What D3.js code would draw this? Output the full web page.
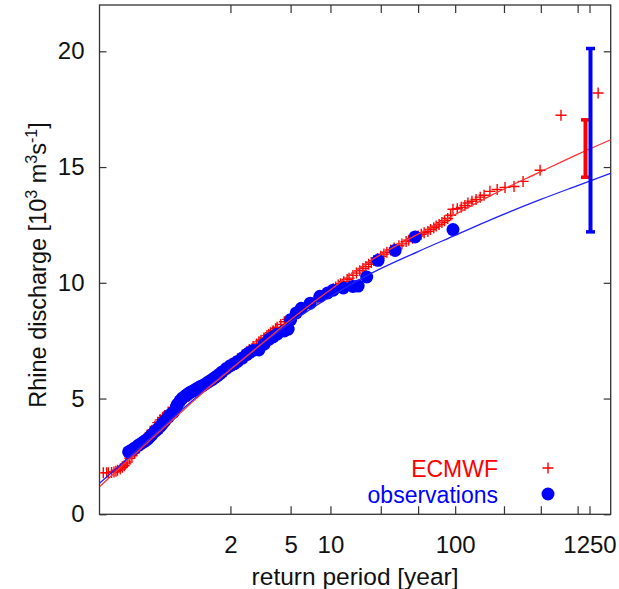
<!DOCTYPE html>
<html>
<head>
<meta charset="utf-8">
<script src="https://cdn.jsdelivr.net/npm/d3@7"></script>
<style>
  body { margin: 0; background: #fff; }
  text { font-family: "Liberation Sans", Arial, sans-serif; fill: #111; }
</style>
</head>
<body>
<div id="chart"></div>
<script>
// ECMWF ensemble: return period [yr] and discharge [10^3 m3/s]
const ecmwfT = [
  1.0005, 1.0008, 1.001, 1.0015, 1.002, 1.0025, 1.003, 1.004, 1.005, 1.006, 1.007, 1.008,
  1.01, 1.012, 1.015, 1.018, 1.02, 1.025, 1.03, 1.035, 1.04, 1.045, 1.05, 1.06, 1.07, 1.08,
  1.09, 1.1, 1.12, 1.15, 1.17, 1.2, 1.22, 1.25, 1.28, 1.3, 1.35, 1.4, 1.45, 1.5, 1.55, 1.6,
  1.7, 1.8, 1.9, 2.0,
  2.1, 2.2, 2.35, 2.5, 2.6, 2.75, 2.9, 3.0, 3.1, 3.25, 3.4, 3.5, 3.6, 3.75, 3.9, 4.0, 4.25,
  4.5, 4.75, 5.0, 5.25, 5.5, 5.75, 6.0, 6.5, 7.0, 7.5, 8.0, 8.5, 9.0, 9.5, 10, 10.5, 11,
  11.5, 12, 12.7, 13.5, 14, 15, 16, 17, 18, 19, 20, 21, 22, 23.5, 25, 26.5, 28, 30, 32, 35,
  37, 40, 42, 45, 47,
  50, 53, 56, 60, 63, 67, 70, 74, 78, 82, 87, 92, 96, 104, 112, 120, 127, 137, 148, 160,
  172, 192, 220, 255, 302, 358, 493, 731, 1470
];
const ecmwfQ = [
  1.79, 1.8, 1.8, 1.81, 1.83, 1.86, 1.9, 1.96, 2.03, 2.1, 2.18, 2.26,
  2.42, 2.53, 2.66, 2.78, 2.86, 3.02, 3.16, 3.3, 3.42, 3.53, 3.63, 3.8, 3.96, 4.08,
  4.18, 4.27, 4.42, 4.6, 4.7, 4.84, 4.92, 5.02, 5.1, 5.16, 5.3, 5.44, 5.56, 5.68, 5.78, 5.88,
  6.06, 6.22, 6.37, 6.5,
  6.6, 6.72, 6.88, 7.02, 7.12, 7.25, 7.36, 7.45, 7.52, 7.62, 7.72, 7.78, 7.84, 7.93, 8.02, 8.08, 8.2,
  8.32, 8.42, 8.52, 8.62, 8.7, 8.77, 8.84, 8.98, 9.1, 9.22, 9.32, 9.42, 9.5, 9.58, 9.66, 9.74, 9.82,
  9.9, 9.96, 10.05, 10.14, 10.2, 10.32, 10.42, 10.52, 10.62, 10.7, 10.8, 10.88, 10.96, 11.05, 11.15, 11.24, 11.32, 11.42, 11.5, 11.6,
  11.68, 11.78, 11.84, 11.92, 11.97,
  12.02, 12.1, 12.16, 12.22, 12.3, 12.38, 12.45, 12.52, 12.6, 12.68, 12.78, 12.92, 13.18, 13.2, 13.26, 13.34, 13.45, 13.52, 13.6, 13.7,
  13.78, 13.95, 14.03, 14.12, 14.16, 14.38, 14.86, 17.24, 18.2
];

// observations
const obsT = [
  1.009, 1.012, 1.015, 1.02, 1.025, 1.03, 1.035, 1.04, 1.045, 1.05, 1.06, 1.07, 1.08, 1.09,
  1.1, 1.12, 1.13, 1.15, 1.17, 1.18, 1.2, 1.22, 1.25, 1.26, 1.28, 1.3, 1.33, 1.35, 1.37, 1.4,
  1.42, 1.45, 1.5, 1.55, 1.6, 1.65, 1.7, 1.75, 1.8, 1.9, 2.0, 2.1, 2.2, 2.35, 2.5, 2.6, 2.75,
  3.0, 3.25, 3.5, 3.75, 4.0, 4.5, 4.8, 5.0, 5.5, 6.0, 7.0,
  8.3, 9.5, 10.5, 12.6, 15, 16.5, 19.3, 23.8, 32.6, 47.3, 96
];
const obsQ = [
  2.7, 2.78, 2.86, 2.98, 3.06, 3.14, 3.2, 3.28, 3.36, 3.44, 3.58, 3.68, 3.8, 3.92,
  4.02, 4.2, 4.3, 4.4, 4.62, 4.75, 4.9, 5.02, 5.12, 5.16, 5.22, 5.28, 5.33, 5.38, 5.42, 5.48,
  5.52, 5.56, 5.65, 5.74, 5.82, 5.9, 5.98, 6.06, 6.15, 6.3, 6.42, 6.5, 6.6, 6.75, 6.9, 6.98, 7.08,
  7.1, 7.35, 7.55, 7.66, 7.78, 7.92, 8.0, 8.4, 8.7, 8.9, 9.12,
  9.42, 9.56, 9.68, 9.78, 9.84, 9.86, 10.25, 10.97, 11.4, 11.98, 12.3
];

// fitted return level curves
const fitT = [1.0003, 1.01, 1.07, 1.24, 1.58, 2.2, 3.25, 5, 10, 20, 50, 100, 200, 500, 1000, 1900];
const ecmwfFitQ = [1.2, 2.4, 3.5, 4.55, 5.55, 6.5, 7.45, 8.4, 9.7, 10.9, 12.1, 12.95, 13.8, 14.8, 15.55, 16.2];
const obsFitQ = [1.35, 2.5, 3.58, 4.62, 5.6, 6.52, 7.43, 8.28, 9.4, 10.35, 11.35, 12.05, 12.75, 13.6, 14.2, 14.75];

// 1250-yr return level uncertainty
const barT = 1250;
const ecmwfBar = [14.56, 17.04];
const obsBar = [12.2, 20.12];

const xTicks = [2, 5, 10, 25, 50, 100, 250, 500, 1000, 1250];
const xTickLabels = ["2", "5", "10", "", "", "100", "", "", "", "1250"];
const yTicks = [0, 5, 10, 15, 20];

const width = 619, height = 589;
const plot = { left: 99.5, right: 610.7, top: 5, bottom: 514.3 };

const svg = d3.select("#chart")
    .append("svg")
    .attr("width", width)
    .attr("height", height);

// Gumbel reduced variate of a return period
const gumbel = T => -Math.log(-Math.log(1 - 1 / T));

const x = d3.scaleLinear().domain([-2.1, 7.53]).range([plot.left, plot.right]);
const y = d3.scaleLinear().domain([0, 22]).range([plot.bottom, plot.top]);
const xT = T => x(gumbel(T));

svg.append("clipPath").attr("id", "clip")
    .append("rect")
    .attr("x", plot.left).attr("y", plot.top)
    .attr("width", plot.right - plot.left).attr("height", plot.bottom - plot.top);

const frameColor = "#333";

// axes with inward ticks
const xAxis = svg.append("g")
    .attr("transform", `translate(0,${plot.bottom})`)
    .call(d3.axisBottom(x)
        .tickValues(xTicks.map(gumbel))
        .tickFormat((d, i) => xTickLabels[i])
        .tickSize(-8).tickSizeOuter(0).tickPadding(22));
const xAxisTop = svg.append("g")
    .attr("transform", `translate(0,${plot.top})`)
    .call(d3.axisTop(x).tickValues(xTicks.map(gumbel)).tickFormat("").tickSize(-8).tickSizeOuter(0));
const yAxis = svg.append("g")
    .attr("transform", `translate(${plot.left},0)`)
    .call(d3.axisLeft(y).tickValues(yTicks).tickSize(-7).tickSizeOuter(0).tickPadding(15));
const yAxisRight = svg.append("g")
    .attr("transform", `translate(${plot.right},0)`)
    .call(d3.axisRight(y).tickValues(yTicks).tickFormat("").tickSize(-7).tickSizeOuter(0));

[xAxis, xAxisTop, yAxis, yAxisRight].forEach(a => {
    a.select(".domain").remove();
    a.selectAll(".tick line").attr("stroke", frameColor).attr("stroke-width", 1.2);
    a.selectAll(".tick text")
        .attr("font-size", 24)
        .attr("fill", "#111")
        .style("font-family", "'Liberation Sans', Arial, sans-serif");
});

svg.append("rect")
    .attr("x", plot.left).attr("y", plot.top)
    .attr("width", plot.right - plot.left).attr("height", plot.bottom - plot.top)
    .attr("fill", "none").attr("stroke", frameColor).attr("stroke-width", 1.3);

const marks = svg.append("g").attr("clip-path", "url(#clip)");

// ECMWF points (plus signs)
const plus = "M-5.5,0H5.5M0,-5.5V5.5";
marks.selectAll(".ecmwf")
    .data(d3.zip(ecmwfT, ecmwfQ))
    .enter()
    .append("path")
    .attr("class", "ecmwf")
    .attr("d", plus)
    .attr("transform", d => `translate(${xT(d[0])},${y(d[1])})`)
    .attr("stroke", "#ff0000")
    .attr("stroke-width", 1.4)
    .attr("fill", "none");

// observations (dots)
marks.selectAll(".obs")
    .data(d3.zip(obsT, obsQ))
    .enter()
    .append("circle")
    .attr("class", "obs")
    .attr("cx", d => xT(d[0]))
    .attr("cy", d => y(d[1]))
    .attr("r", 6.5)
    .attr("fill", "#0000ff");

// fitted curves
const line = d3.line()
    .x(d => xT(d[0]))
    .y(d => y(d[1]))
    .curve(d3.curveMonotoneX);

marks.append("path")
    .datum(d3.zip(fitT, obsFitQ))
    .attr("d", line)
    .attr("fill", "none")
    .attr("stroke", "#2222ff")
    .attr("stroke-width", 1.3);

marks.append("path")
    .datum(d3.zip(fitT, ecmwfFitQ))
    .attr("d", line)
    .attr("fill", "none")
    .attr("stroke", "#ff3333")
    .attr("stroke-width", 1.3);

// error bars at the 1250-yr return period
function errorBar(range, dx, color) {
    const bx = xT(barT) + dx;
    const g = svg.append("g").attr("stroke", color);
    g.append("line")
        .attr("x1", bx).attr("x2", bx)
        .attr("y1", y(range[0])).attr("y2", y(range[1]))
        .attr("stroke-width", 4);
    range.forEach(v => {
        g.append("line")
            .attr("x1", bx - 4.5).attr("x2", bx + 4.5)
            .attr("y1", y(v)).attr("y2", y(v))
            .attr("stroke-width", 3.5);
    });
}
errorBar(ecmwfBar, -4, "#ff0000");
errorBar(obsBar, 1, "#0000ff");

// legend
const legend = svg.append("g");
legend.append("text")
    .attr("x", 498).attr("y", 477)
    .attr("text-anchor", "end")
    .attr("font-size", 23)
    .style("fill", "#ff0000")
    .text("ECMWF");
legend.append("path")
    .attr("d", plus)
    .attr("transform", "translate(548,468)")
    .attr("stroke", "#ff0000").attr("stroke-width", 1.4);
legend.append("text")
    .attr("x", 498).attr("y", 503)
    .attr("text-anchor", "end")
    .attr("font-size", 23)
    .style("fill", "#0000ff")
    .text("observations");
legend.append("circle")
    .attr("cx", 548).attr("cy", 494)
    .attr("r", 6.5)
    .attr("fill", "#0000ff");

// axis titles
svg.append("text")
    .attr("x", (plot.left + plot.right) / 2)
    .attr("y", 585)
    .attr("text-anchor", "middle")
    .attr("font-size", 24.5)
    .text("return period [year]");

const ylab = svg.append("text")
    .attr("transform", "translate(46,265) rotate(-90)")
    .attr("text-anchor", "middle")
    .attr("font-size", 23.5);
ylab.append("tspan").text("Rhine discharge [10");
ylab.append("tspan").attr("dy", -9).attr("font-size", 16).text("3");
ylab.append("tspan").attr("dy", 9).text(" m");
ylab.append("tspan").attr("dy", -9).attr("font-size", 16).text("3");
ylab.append("tspan").attr("dy", 9).text("s");
ylab.append("tspan").attr("dy", -9).attr("font-size", 16).text("-1");
ylab.append("tspan").attr("dy", 9).text("]");
</script>
</body>
</html>
